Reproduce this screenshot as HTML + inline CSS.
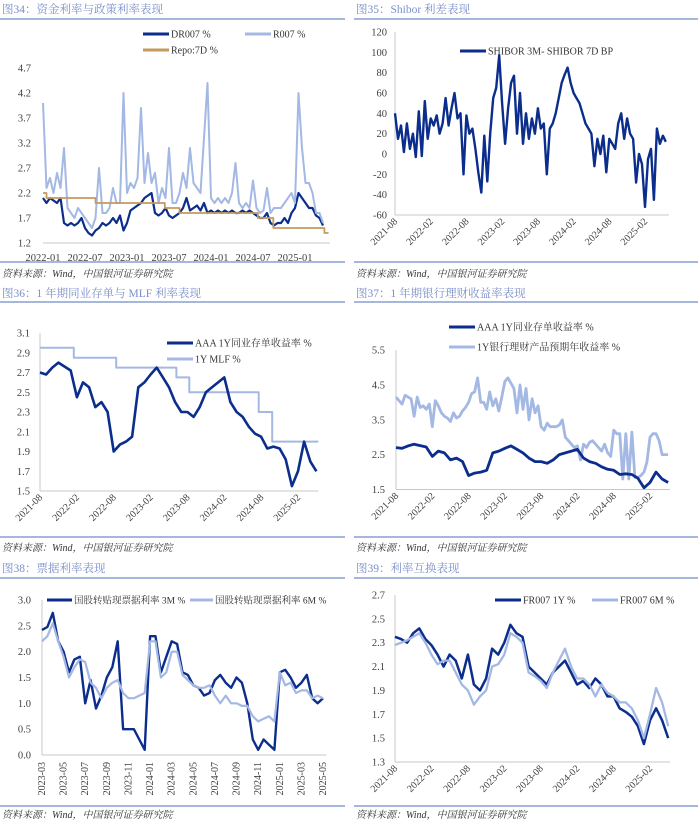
<!DOCTYPE html>
<html><head><meta charset="utf-8">
<style>
html,body{margin:0;padding:0;background:#fff;}
svg{display:block;}
</style></head>
<body>
<svg id="chart-root" xmlns="http://www.w3.org/2000/svg" width="700" height="823" viewBox="0 0 700 823"></svg>
<script>
// ---------- DATA ----------
const labels34 = ['2022-01','2022-07','2023-01','2023-07','2024-01','2024-07','2025-01'];
const yTicks34 = [1.2,1.7,2.2,2.7,3.2,3.7,4.2,4.7];
const dr007 = [2.1,2.0,2.1,2.05,2.0,2.1,1.6,1.55,1.6,1.55,1.6,1.7,1.5,1.4,1.35,1.45,1.5,1.6,1.55,1.6,1.7,1.6,1.75,1.45,
 1.6,1.85,1.9,1.95,2.0,2.1,2.15,2.2,1.8,1.75,1.8,1.9,1.75,1.7,1.75,1.8,1.9,2.1,1.85,1.9,1.95,1.85,2.0,1.8,
 1.85,1.8,1.85,1.8,1.85,1.8,1.85,1.8,1.8,1.85,1.8,1.85,1.8,1.75,1.7,1.7,1.8,1.6,1.55,1.6,1.6,1.7,1.6,1.8,
 1.9,2.2,2.1,2.0,1.9,1.9,1.75,1.7,1.55];
const r007 = [4.0,2.3,2.5,2.2,2.6,2.3,3.1,1.9,1.8,1.7,1.9,1.8,1.7,1.6,1.5,1.7,2.7,1.8,1.8,1.9,2.3,2.0,2.0,4.2,
 2.2,2.4,2.3,2.5,3.9,2.4,3.0,2.4,2.6,2.0,2.3,2.1,3.1,2.0,2.0,2.2,2.6,2.3,3.1,2.4,2.3,2.2,3.3,4.4,
 2.1,2.0,2.1,2.0,2.1,2.0,2.2,2.8,2.0,1.9,2.0,1.9,2.45,1.9,1.8,1.85,2.3,1.8,1.9,1.9,1.9,2.0,2.1,2.2,
 2.0,4.2,3.1,2.4,2.4,2.2,1.8,1.8,1.6];
const repoMonths = [0,0.5,7.5,17.4,19.5,30.7,32.9,40.2];
const repoVals = [2.2,2.1,2.0,1.9,1.8,1.7,1.5,1.4];
const labelsM = ['2021-08','2022-02','2022-08','2023-02','2023-08','2024-02','2024-08','2025-02'];
const yTicks35 = [-60,-40,-20,0,20,40,60,80,100,120];
const shiborSpread = [40,15,28,2,30,5,20,-3,42,-2,52,15,35,28,38,20,30,55,28,45,60,35,40,-20,38,20,25,5,-18,-38,18,-27,
 20,55,65,97,50,10,45,70,77,20,60,10,40,15,35,20,45,25,30,-20,25,30,40,55,70,78,85,70,60,55,50,40,30,25,20,-12,
 15,0,18,-18,15,10,5,30,40,15,35,20,15,-28,0,-10,-52,-5,5,-45,25,10,18,12];
const yTicks36 = [1.5,1.7,1.9,2.1,2.3,2.5,2.7,2.9,3.1];
const cd1y = [2.7,2.68,2.75,2.8,2.76,2.72,2.45,2.6,2.55,2.35,2.4,2.3,1.9,1.97,2.0,2.05,2.55,2.6,2.68,2.75,2.65,2.55,2.4,2.3,
 2.3,2.25,2.35,2.5,2.55,2.6,2.65,2.4,2.3,2.25,2.15,2.08,2.05,1.93,1.95,1.93,1.82,1.55,1.7,2.0,1.8,1.7];
const mlfMonths = [0,5.5,12.4,22.2,24.3,35.6,37.8];
const mlfVals = [2.95,2.85,2.75,2.65,2.5,2.3,2.0];
const yTicks37 = [1.5,2.5,3.5,4.5,5.5];
const wealth1y = [4.15,4.05,3.95,4.2,4.15,4.1,3.6,4.15,3.85,3.9,3.8,3.95,3.3,4.05,3.9,3.7,3.6,3.55,3.45,3.7,3.55,3.6,3.75,3.85,
 4.0,4.25,4.3,4.7,4.0,4.0,3.8,4.3,3.9,4.1,3.75,4.15,4.6,4.7,4.55,4.4,3.7,4.5,3.8,4.4,3.5,4.1,3.7,3.9,
 3.3,3.2,3.4,3.3,3.3,3.3,3.35,3.5,3.0,2.9,2.8,2.7,2.75,2.35,2.8,2.7,2.85,2.9,2.8,2.7,2.6,2.8,2.55,2.45,
 3.2,3.1,3.1,1.8,3.1,1.8,3.15,1.85,1.85,1.9,2.0,2.3,3.0,3.1,3.1,2.9,2.5,2.5,2.5];
const labels38 = ['2023-03','2023-05','2023-07','2023-09','2023-11','2024-01','2024-03','2024-05','2024-07','2024-09','2024-11','2025-01','2025-03','2025-05'];
const yTicks38 = [0.0,0.5,1.0,1.5,2.0,2.5,3.0];
const bill3m = [2.42,2.48,2.75,2.2,2.0,1.6,1.85,1.9,1.0,1.45,0.9,1.15,1.5,1.7,2.2,0.5,0.5,0.5,0.3,0.1,2.3,2.3,1.6,1.9,2.2,2.15,
 1.6,1.55,1.35,1.3,1.15,1.2,1.45,1.55,1.4,1.3,1.5,1.4,1.0,0.3,0.1,0.3,0.2,0.1,1.6,1.65,1.5,1.3,1.4,1.55,1.1,1.0,1.1];
const bill6m = [2.2,2.3,2.55,2.2,1.9,1.5,1.7,1.85,1.8,1.4,1.3,1.1,1.3,1.4,1.45,1.2,1.1,1.1,1.15,1.2,2.2,2.2,1.5,1.6,2.0,2.0,
 1.55,1.45,1.35,1.3,1.3,1.35,1.15,1.0,1.15,1.0,1.0,0.95,0.95,0.75,0.65,0.7,0.75,0.65,1.6,1.35,1.4,1.2,1.25,1.25,1.1,1.15,1.1];
const yTicks39 = [1.3,1.5,1.7,1.9,2.1,2.3,2.5,2.7];
const fr1y = [2.35,2.33,2.3,2.38,2.42,2.33,2.28,2.2,2.1,2.2,2.15,2.0,2.2,1.95,1.9,2.0,2.25,2.2,2.3,2.45,2.38,2.35,2.1,2.05,
 2.0,1.95,2.05,2.1,2.15,2.05,1.95,1.98,1.92,2.0,1.95,1.85,1.85,1.75,1.72,1.68,1.6,1.45,1.65,1.75,1.65,1.5];
const fr6m = [2.28,2.3,2.32,2.35,2.38,2.3,2.2,2.12,2.15,2.15,2.05,1.95,1.9,1.78,1.85,1.9,2.1,2.12,2.2,2.38,2.35,2.3,2.05,2.02,
 1.98,1.92,2.05,2.15,2.25,2.1,2.0,2.0,1.95,1.85,1.95,1.88,1.85,1.8,1.8,1.75,1.65,1.5,1.7,1.92,1.8,1.6];

// ---------- RENDER ----------
const NS='http://www.w3.org/2000/svg';
const root=document.getElementById('chart-root');
const DARK='#0b2d8c', LIGHT='#a4b8e4', REPO='#c59a5e', TITLE='#7b8fc9';
const SERIF='"Liberation Serif","Noto Serif CJK SC",serif';
function mk(tag,attrs,parent){const e=document.createElementNS(NS,tag);for(const k in attrs)e.setAttribute(k,attrs[k]);parent.appendChild(e);return e;}
function mkText(parent,x,y,s,attrs){const e=mk('text',Object.assign({x:x,y:y,'font-family':SERIF},attrs),parent);e.textContent=s;return e;}

mk('rect',{x:0,y:0,width:700,height:823,fill:'#fff'},root);

function panel(x0,x1,titleY,ulY,botY,srcY,title,name){
  const g=mk('g',{},root);
  
  
  const t=mkText(g,x0+2,titleY,title,{fill:TITLE,'font-size':11.5});
  
  
  const u=mk('line',{x1:x0,y1:ulY,x2:x1,y2:ulY,stroke:'#8a9dd0','stroke-width':1.5},g);
  
  
  const b=mk('line',{x1:x0,y1:botY,x2:x1,y2:botY,stroke:'#8a9dd0','stroke-width':1.5},g);
  
  
  const s=mkText(g,x0+2,srcY,'资料来源：Wind，中国银河证券研究院',{fill:'#333','font-size':10,'font-style':'italic'});
  
  
}
panel(0,345,13,19,262,277,'图34：资金利率与政策利率表现','chart34');
panel(354,698,13,19,262,277,'图35：Shibor 利差表现','chart35');
panel(0,345,297,302,537,551,'图36：1 年期同业存单与 MLF 利率表现','chart36');
panel(354,698,297,302,537,551,'图37：1 年期银行理财收益率表现','chart37');
panel(0,345,572,578,806,818,'图38：票据利率表现','chart38');
panel(354,698,572,578,806,818,'图39：利率互换表现','chart39');

function drawChart(c){
  const g=mk('g',{},root);
  
  
  const xs=m=>c.xa+m*c.xk;
  const ys=v=>c.ya+(v-c.va)*(c.yb-c.ya)/(c.vb-c.va);
  const xEnd=xs(c.mEnd);
  const xa=mk('line',{x1:c.xa,y1:c.yb,x2:xEnd,y2:c.yb,stroke:'#c8c8c8','stroke-width':1},g);
  
  
  if(c.yAxis){
    const ya=mk('line',{x1:c.xa,y1:ys(c.yTicks[c.yTicks.length-1]),x2:c.xa,y2:c.yb,stroke:'#c8c8c8','stroke-width':1},g);
    
    
  }
  c.yTicks.forEach(v=>{
    const t=mkText(g,c.yLabelX,ys(v)+3.5,v.toFixed(c.dec),{fill:'#404040','font-size':10.5,'text-anchor':'end'});
    
    
  });
  c.xLabels.forEach((s,i)=>{
    const x=xs(i*c.xStep);
    let t;
    if(c.rot===0){
      t=mkText(g,x,c.yb+18,s,{fill:'#404040','font-size':10.5,'text-anchor':'middle'});
    } else {
      const ax=x+3, ay=c.yb+7;
      t=mkText(g,ax,ay,s,{fill:'#404040','font-size':10,'text-anchor':'end',transform:'rotate('+c.rot+' '+ax+' '+ay+')'});
    }
    
    
  });
  c.series.forEach(s=>{
    let d='';
    if(s.steps){
      for(let i=0;i<s.steps.length;i++){
        const x0=xs(s.steps[i]), x1=xs(i+1<s.steps.length?s.steps[i+1]:s.end), y=ys(s.vals[i]);
        d+=(i===0?'M':'L')+x0.toFixed(1)+','+y.toFixed(1)+'L'+x1.toFixed(1)+','+y.toFixed(1);
      }
    } else {
      s.data.forEach((v,i)=>{d+=(i===0?'M':'L')+xs(s.start+i*s.step).toFixed(1)+','+ys(v).toFixed(1);});
    }
    const p=mk('path',{d:d,fill:'none',stroke:s.color,'stroke-width':s.w,'stroke-linejoin':'round'},g);
    
    
  });
  c.legend.forEach(l=>{
    const lg=mk('g',{},g);
    
    
    const ln=mk('line',{x1:l.x,y1:l.y,x2:l.x+(l.len||26),y2:l.y,stroke:l.color,'stroke-width':3},lg);
    
    
    const t=mkText(lg,l.x+(l.len||26)+2,l.y+3.5,l.text,{fill:'#333','font-size':l.fs||10});
    
    
  });
}

drawChart({name:'chart34-plot',xa:43,xk:7,mEnd:41,ya:68,va:4.7,yb:243,vb:1.2,yTicks:yTicks34,dec:1,yLabelX:31,yAxis:false,
  xLabels:labels34,xStep:6,rot:0,
  series:[{name:'dr007-line',data:dr007,start:0,step:0.5,color:DARK,w:2.2},
          {name:'r007-line',data:r007,start:0,step:0.5,color:LIGHT,w:2},
          {name:'repo-7d-line',steps:repoMonths,vals:repoVals,end:40.8,color:REPO,w:1.8}],
  legend:[{x:143,y:34,color:DARK,text:'DR007 %'},{x:245,y:34,color:LIGHT,text:'R007 %'},{x:143,y:50,color:REPO,text:'Repo:7D %'}]});

drawChart({name:'chart35-plot',xa:395,xk:250/42,mEnd:46,ya:32,va:120,yb:215,vb:-60,yTicks:yTicks35,dec:0,yLabelX:387,yAxis:true,
  xLabels:labelsM,xStep:6,rot:-45,
  series:[{name:'shibor-spread-line',data:shiborSpread,start:0,step:0.5,color:DARK,w:2.4}],
  legend:[{x:460,y:51,color:DARK,text:'SHIBOR 3M- SHIBOR 7D BP'}]});

drawChart({name:'chart36-plot',xa:40,xk:258/42,mEnd:45.3,ya:333,va:3.1,yb:491,vb:1.5,yTicks:yTicks36,dec:1,yLabelX:30,yAxis:true,
  xLabels:labelsM,xStep:6,rot:-45,
  series:[{name:'mlf-1y-line',steps:mlfMonths,vals:mlfVals,end:45.3,color:LIGHT,w:2},
          {name:'cd-aaa-1y-line',data:cd1y,start:0,step:1,color:DARK,w:2.6}],
  legend:[{x:167,y:343,color:DARK,text:'AAA 1Y同业存单收益率 %'},{x:167,y:359,color:LIGHT,text:'1Y MLF %'}]});

drawChart({name:'chart37-plot',xa:396,xk:254/42,mEnd:45.3,ya:350,va:5.5,yb:489.5,vb:1.5,yTicks:yTicks37,dec:1,yLabelX:385,yAxis:true,
  xLabels:labelsM,xStep:6,rot:-45,
  series:[{name:'wealth-1y-line',data:wealth1y,start:0,step:0.5,color:LIGHT,w:2.8},
          {name:'cd-aaa-1y-line',data:cd1y,start:0,step:1,color:DARK,w:2.8}],
  legend:[{x:449,y:327,color:DARK,text:'AAA 1Y同业存单收益率 %'},{x:449,y:347,color:LIGHT,text:'1Y银行理财产品预期年收益率 %'}]});

drawChart({name:'chart38-plot',xa:42,xk:281/26,mEnd:26.3,ya:600,va:3.0,yb:755,vb:0,yTicks:yTicks38,dec:1,yLabelX:31,yAxis:true,
  xLabels:labels38,xStep:2,rot:-90,
  series:[{name:'bill-3m-line',data:bill3m,start:0,step:0.5,color:DARK,w:2.4},
          {name:'bill-6m-line',data:bill6m,start:0,step:0.5,color:LIGHT,w:2.2}],
  legend:[{x:47,y:600,color:DARK,text:'国股转贴现票据利率 3M %',fs:9.5,len:25},{x:190,y:600,color:LIGHT,text:'国股转贴现票据利率 6M %',fs:9.5,len:23}]});

drawChart({name:'chart39-plot',xa:395,xk:255/42,mEnd:45.3,ya:595,va:2.7,yb:762,vb:1.3,yTicks:yTicks39,dec:1,yLabelX:385,yAxis:true,
  xLabels:labelsM,xStep:6,rot:-45,
  series:[{name:'fr007-1y-line',data:fr1y,start:0,step:1,color:DARK,w:2.5},
          {name:'fr007-6m-line',data:fr6m,start:0,step:1,color:LIGHT,w:2.3}],
  legend:[{x:495,y:600,color:DARK,text:'FR007 1Y %'},{x:592,y:600,color:LIGHT,text:'FR007 6M %'}]});
</script>
</body></html>
